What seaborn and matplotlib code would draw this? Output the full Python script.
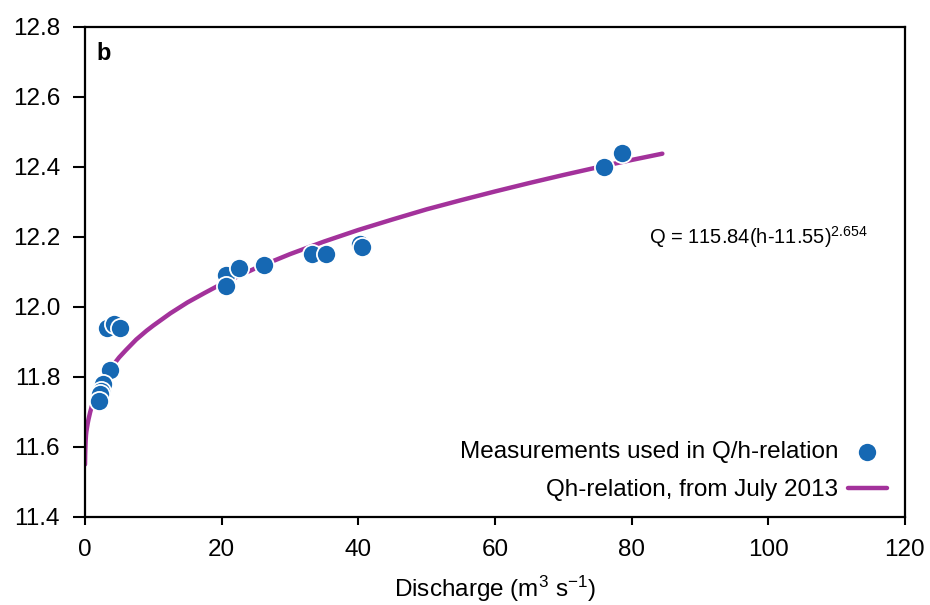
import matplotlib
matplotlib.use("Agg")
import matplotlib.pyplot as plt
import seaborn as sns
import pandas as pd

# Measurements (discharge m3/s, stage m)
meas_q = [3.2, 4.2, 5.1, 3.7, 2.6, 2.4, 2.2, 2.1,
          20.7, 20.7, 22.6, 26.2, 33.2, 35.3, 40.3, 40.6, 75.9, 78.6]
meas_h = [11.94, 11.95, 11.94, 11.82, 11.78, 11.76, 11.75, 11.73,
          12.09, 12.06, 12.11, 12.12, 12.15, 12.15, 12.18, 12.17, 12.40, 12.44]

# Qh-relation curve points
curve_q = [0, 0.02, 0.05, 0.1, 0.15, 0.2, 0.3, 0.4, 0.5, 0.75, 1, 1.25, 1.5, 2, 2.5,
           3, 4, 5, 6, 7.5, 9, 10, 12.5, 15, 17.5, 20, 25, 30, 35, 40, 45, 50,
           55, 60, 65, 70, 75, 80, 84.5]
curve_h = [11.55, 11.575, 11.596, 11.620, 11.635, 11.644, 11.656, 11.668, 11.678,
           11.699, 11.717, 11.731, 11.744, 11.767, 11.785, 11.802, 11.831, 11.856,
           11.877, 11.907, 11.932, 11.947, 11.982, 12.013, 12.040, 12.066, 12.111,
           12.151, 12.187, 12.220, 12.250, 12.279, 12.305, 12.330, 12.354, 12.377,
           12.399, 12.420, 12.438]

x_ticks = [0, 20, 40, 60, 80, 100, 120]
y_ticks = [11.4, 11.6, 11.8, 12.0, 12.2, 12.4, 12.6, 12.8]

sns.set_style("ticks", {"text.color": "black", "xtick.color": "black",
                        "ytick.color": "black", "axes.labelcolor": "black"})
plt.rcParams['font.family'] = ['Liberation Sans', 'DejaVu Sans']
plt.rcParams['mathtext.fontset'] = 'custom'
plt.rcParams['mathtext.rm'] = 'Liberation Sans'
plt.rcParams['mathtext.it'] = 'Liberation Sans'

fig = plt.figure(figsize=(9.3, 6.05), dpi=100)
ax = fig.add_axes([0.0914, 0.1455, 0.8816, 0.8099])

df_m = pd.DataFrame({"Q": meas_q, "h": meas_h})
df_c = pd.DataFrame({"Q": curve_q, "h": curve_h})

sns.lineplot(data=df_c, x="Q", y="h", ax=ax, color="#a3329b", linewidth=3.2,
             label="Qh-relation, from July 2013", zorder=2, sort=False)
sns.scatterplot(data=df_m, x="Q", y="h", ax=ax, color="#1668b3", s=190,
                edgecolor="white", linewidth=1.3, zorder=3,
                label="Measurements used in Q/h-relation")

ax.set_xlim(0, 120)
ax.set_ylim(11.4, 12.8)
ax.set_xticks(x_ticks)
ax.set_yticks(y_ticks)
ax.set_yticklabels([f"{v:.1f}" for v in y_ticks])
ax.tick_params(labelsize=17.5, width=1.5, direction="out", color="black",
               labelcolor="black")
ax.tick_params(axis="y", length=9, pad=9)
ax.tick_params(axis="x", length=6, pad=10)
for s in ax.spines.values():
    s.set_visible(True)
    s.set_linewidth(1.6)
    s.set_color("black")
ax.set_xlabel("Discharge (m$^3$ s$^{-1}$)", fontsize=17.5, labelpad=9, color="black")
ax.set_ylabel("")

ax.text(82.5, 12.2, "Q = 115.84(h-11.55)$^{2.654}$", fontsize=14.5, va="center",
        ha="left", color="black")
ax.text(0.014, 0.97, "b", transform=ax.transAxes, fontsize=17, fontweight="bold",
        va="top", ha="left", color="black")

h, l = ax.get_legend_handles_labels()
order = [1, 0]
leg = ax.legend([h[i] for i in order], [l[i] for i in order], loc="lower right",
                markerfirst=False, frameon=False, fontsize=17.5, handlelength=1.6,
                handletextpad=0.4, borderaxespad=0.25, labelspacing=0.65,
                bbox_to_anchor=(0.997, 0.0))
for t in leg.get_texts():
    t.set_color("black")

fig.savefig("out.png", dpi=100)
